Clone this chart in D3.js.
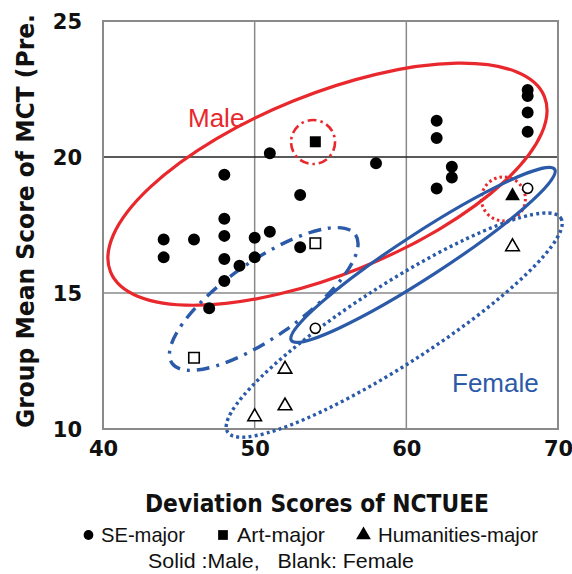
<!DOCTYPE html>
<html>
<head>
<meta charset="utf-8">
<script src="https://cdn.jsdelivr.net/npm/d3@7"></script>
<style>
  html, body { margin: 0; padding: 0; background: #fff; }
  svg { display: block; }
</style>
</head>
<body>
<div id="chart"></div>
<script>
// Axis tick values
const xTicks = [40, 50, 60, 70];
const yTicks = [10, 15, 20, 25];

// Group means: [deviation score, MCT mean]
const seMale = [
  [44, 16.97], [44, 16.31], [46, 16.97], [47, 14.44],
  [48, 19.35], [48, 17.73], [48, 17.10], [48, 16.25], [48, 15.44],
  [49, 16.00], [50, 17.03], [50, 16.31], [51, 20.14], [51, 17.25],
  [53, 18.60], [53, 16.68], [58, 19.77],
  [62, 21.33], [62, 20.70], [62, 18.84], [63, 19.64], [63, 19.25],
  [68, 22.46], [68, 22.24], [68, 21.64], [68, 20.93]
];
const artMale = [[54, 20.56]];
const humMale = [[67, 18.57]];
const seFemale = [[54, 13.70], [68, 18.85]];
const artFemale = [[46, 12.62], [54, 16.83]];
const humFemale = [[52, 12.20], [52, 10.85], [50, 10.45], [67, 16.70]];

// Legend entries
const legendItems = ["SE-major", "Art-major", "Humanities-major"];
const noteText = "Solid :Male,   Blank: Female";

const W = 572, H = 574;
const M = { left: 103, right: 14, top: 21, bottom: 145 };

const x = d3.scaleLinear().domain([40, 70]).range([M.left, W - M.right]);
const y = d3.scaleLinear().domain([10, 25]).range([H - M.bottom, M.top]);

const RED = "#e8282c", BLUE = "#2b5aa9";

const svg = d3.select("#chart").append("svg")
  .attr("width", W).attr("height", H);

// grid
const g = svg.append("g");
g.selectAll(".vgrid").data(xTicks.slice(1, -1)).join("line")
  .attr("x1", d => x(d)).attr("x2", d => x(d))
  .attr("y1", y(25)).attr("y2", y(10))
  .attr("stroke", "#8a8a8a").attr("stroke-width", 1.5);
g.selectAll(".hgrid").data(yTicks.slice(1, -1)).join("line")
  .attr("x1", x(40)).attr("x2", x(70))
  .attr("y1", d => y(d)).attr("y2", d => y(d))
  .attr("stroke", d => d === 20 ? "#222" : "#8a8a8a")
  .attr("stroke-width", d => d === 20 ? 1.3 : 1.5);
g.append("rect")
  .attr("x", x(40)).attr("y", y(25))
  .attr("width", x(70) - x(40)).attr("height", y(10) - y(25))
  .attr("fill", "none").attr("stroke", "#8a8a8a").attr("stroke-width", 2);

// axes (labels only)
const fontTick = "'DejaVu Sans', sans-serif";
const xAxis = svg.append("g")
  .attr("transform", `translate(0,${y(10)})`)
  .call(d3.axisBottom(x).tickValues(xTicks).tickSize(0).tickPadding(23));
const yAxis = svg.append("g")
  .attr("transform", `translate(${x(40)},0)`)
  .call(d3.axisLeft(y).tickValues(yTicks).tickSize(0).tickPadding(21));
[xAxis, yAxis].forEach(a => {
  a.select(".domain").remove();
  a.selectAll("text")
    .attr("font-family", fontTick).attr("font-weight", "bold")
    .attr("font-size", 21).attr("fill", "#111");
});
yAxis.selectAll("text").attr("dy", "0.36em");
xAxis.selectAll("text").attr("dy", "0.2em");

// group outlines: centre in data units, radii in px, rotation in degrees
const rings = [
  { cx: 54.8, cy: 19.0, rx: 234, ry: 90, rot: -22, color: RED, dash: null, w: 3.2 },
  { cx: 53.85, cy: 20.55, rx: 22, ry: 22, rot: 0, color: RED, dash: "9,4,2.5,4", w: 2.6 },
  { cx: 66.4, cy: 18.46, rx: 22, ry: 22, rot: 0, color: RED, dash: "2.5,3", w: 3 },
  { cx: 61.1, cy: 16.4, rx: 157, ry: 22, rot: -33, color: BLUE, dash: null, w: 3.2 },
  { cx: 50.6, cy: 14.78, rx: 112, ry: 38, rot: -35, color: BLUE, dash: "13,7,3,7", w: 3.4 },
  { cx: 59.2, cy: 13.82, rx: 198, ry: 40, rot: -32.7, color: BLUE, dash: "3,3.2", w: 3.4 }
];
svg.append("g").selectAll("ellipse").data(rings).join("ellipse")
  .attr("cx", 0).attr("cy", 0)
  .attr("rx", d => d.rx).attr("ry", d => d.ry)
  .attr("transform", d => `translate(${x(d.cx)},${y(d.cy)}) rotate(${d.rot})`)
  .attr("fill", "none")
  .attr("stroke", d => d.color)
  .attr("stroke-width", d => d.w)
  .attr("stroke-dasharray", d => d.dash);

// group labels
svg.append("text").attr("x", 188).attr("y", 127)
  .attr("font-family", "'Liberation Sans', Arial, sans-serif")
  .attr("font-size", 26).attr("fill", RED).text("Male");
svg.append("text").attr("x", 452).attr("y", 392)
  .attr("font-family", "'Liberation Sans', Arial, sans-serif")
  .attr("font-size", 26).attr("fill", BLUE).text("Female");

// markers
const pts = svg.append("g");
const sym = (type, size) => d3.symbol().type(type).size(size)();
function plot(data, type, size, filled) {
  pts.selectAll(null).data(data).join("path")
    .attr("d", sym(type, size))
    .attr("transform", d => `translate(${x(d[0])},${y(d[1])})`)
    .attr("fill", filled ? "#000" : "#fff")
    .attr("stroke", "#000")
    .attr("stroke-width", filled ? 0 : 1.6);
}
plot(seMale, d3.symbolCircle, 113, true);
plot(artMale, d3.symbolSquare, 121, true);
plot(humMale, d3.symbolTriangle, 95, true);
plot(seFemale, d3.symbolCircle, 80, false);
plot(artFemale, d3.symbolSquare, 110, false);
plot(humFemale, d3.symbolTriangle, 80, false);

// axis titles
svg.append("text")
  .attr("x", 145).attr("y", 512)
  .attr("font-family", fontTick).attr("font-weight", "bold")
  .attr("font-size", 25).attr("fill", "#111")
  .attr("textLength", 344).attr("lengthAdjust", "spacingAndGlyphs")
  .text("Deviation Scores of NCTUEE");
svg.append("text")
  .attr("transform", "translate(34,428) rotate(-90)")
  .attr("font-family", fontTick).attr("font-weight", "bold")
  .attr("font-size", 24).attr("fill", "#111")
  .attr("textLength", 414).attr("lengthAdjust", "spacingAndGlyphs")
  .text("Group Mean Score of MCT (Pre.");

// legend
const legFont = "'Liberation Sans', Arial, sans-serif";
const legSyms = [d3.symbolCircle, d3.symbolSquare, d3.symbolTriangle];
const legSymX = [88.5, 223, 363.5];
const legSymSize = [75, 95, 95];
const legTextX = [101, 237, 378];
const legTextW = [84, 88, 160];
const leg = svg.append("g");
legendItems.forEach((name, i) => {
  leg.append("path").attr("d", sym(legSyms[i], legSymSize[i]))
    .attr("transform", `translate(${legSymX[i]},${535})`).attr("fill", "#000");
  leg.append("text").attr("x", legTextX[i]).attr("y", 542)
    .attr("font-family", legFont).attr("font-size", 21).attr("fill", "#111")
    .attr("textLength", legTextW[i]).attr("lengthAdjust", "spacingAndGlyphs")
    .text(name);
});
leg.append("text").attr("x", 148).attr("y", 568)
  .attr("font-family", legFont).attr("font-size", 21).attr("fill", "#111")
  .attr("textLength", 266).attr("lengthAdjust", "spacingAndGlyphs")
  .attr("xml:space", "preserve").style("white-space", "pre")
  .text(noteText);
</script>
</body>
</html>
